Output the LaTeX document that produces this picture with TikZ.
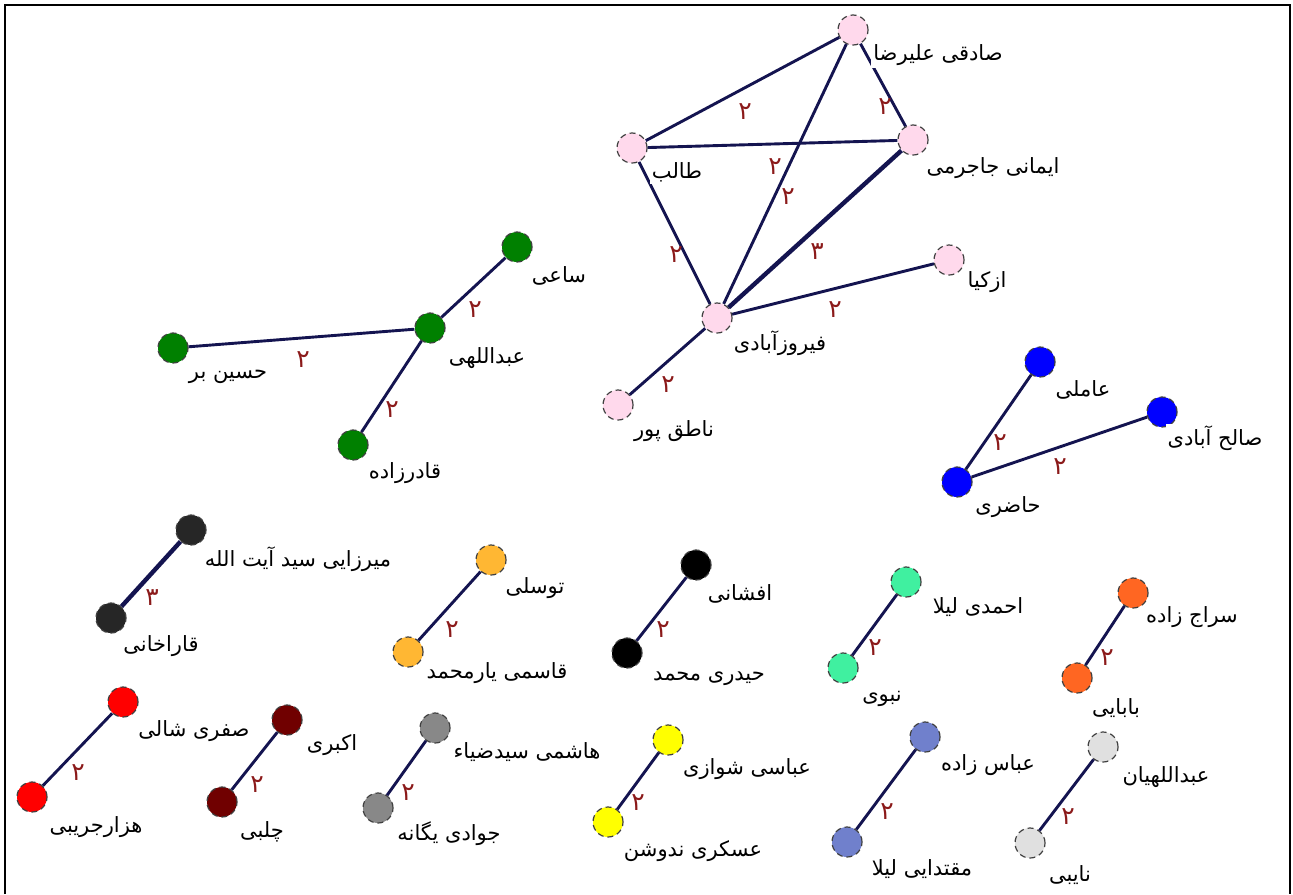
\documentclass[tikz,border=0pt]{standalone}
\usepackage{fontspec}
\newfontfamily\arfont[Script=Arabic]{DejaVu Sans}
\TeXXeTstate=1
\newcommand\fatext[1]{\beginR#1\endR}
\definecolor{edgec}{HTML}{141450}
\definecolor{labc}{HTML}{8B1A1A}
\definecolor{cpink}{HTML}{FFD9EC}
\definecolor{cgreen}{HTML}{008000}
\definecolor{cblue}{HTML}{0000FF}
\definecolor{cdark}{HTML}{262626}
\definecolor{corange}{HTML}{FFB733}
\definecolor{cblack}{HTML}{000000}
\definecolor{cteal}{HTML}{40F0A0}
\definecolor{cored}{HTML}{FF6622}
\definecolor{cred}{HTML}{FF0000}
\definecolor{cmaroon}{HTML}{700000}
\definecolor{cgrey}{HTML}{888888}
\definecolor{cyellow}{HTML}{FFFF00}
\definecolor{cperi}{HTML}{7080CC}
\definecolor{clgrey}{HTML}{E0E0E0}
\begin{document}
\begin{tikzpicture}[x=0.5pt,y=-0.5pt,
  pnode/.style={circle, draw=black!75, densely dashed, line width=0.6pt, minimum size=15pt, inner sep=0pt},
  lnk/.style={draw=edgec, line width=1.45pt},
  heavylnk/.style={draw=edgec, line width=2.2pt},
  nlabel/.style={font=\fontsize{10.5}{12}\arfont, fill=white, inner sep=1pt, text=black},
  elab/.style={font=\fontsize{12.5}{14}\arfont, text=labc, inner sep=0pt}]
\useasboundingbox (0,0) rectangle (1293,894);
\draw[line width=1pt] (5,894) -- (5,5) -- (1290,5) -- (1290,894);

% pink cluster
\node[pnode, fill=cpink] (sadeghi) at (853,30) {};
\node[pnode, fill=cpink] (taleb) at (632,148) {};
\node[pnode, fill=cpink] (imani) at (913,140) {};
\node[pnode, fill=cpink] (firouz) at (717,318) {};
\node[pnode, fill=cpink] (azkia) at (949,260) {};
\node[pnode, fill=cpink] (nategh) at (618,405) {};
\draw[lnk] (sadeghi) -- (taleb);
\draw[lnk] (sadeghi) -- (imani);
\draw[lnk] (sadeghi) -- (firouz);
\draw[lnk] (taleb) -- (imani);
\draw[lnk] (taleb) -- (firouz);
\draw[heavylnk] (imani) -- (firouz);
\draw[lnk] (firouz) -- (azkia);
\draw[lnk] (firouz) -- (nategh);
\node[elab] (e1) at (745,112) {۲};
\node[elab] (e2) at (885,107) {۲};
\node[elab] (e3) at (775,167) {۲};
\node[elab] (e4) at (788,197) {۲};
\node[elab] (e5) at (676,255) {۲};
\node[elab] (e6) at (817,252) {۳};
\node[elab] (e7) at (835,310) {۲};
\node[elab] (e8) at (668,385) {۲};
\node[nlabel] (lsadeghi) at (938,55) {\fatext{صادقی  علیرضا}};
\node[nlabel] (ltaleb) at (677,172) {\fatext{طالب}};
\node[nlabel] (limani) at (993,168) {\fatext{ایمانی جاجرمی}};
\node[nlabel] (lfirouz) at (780,343) {\fatext{فیروزآبادی}};
\node[nlabel] (lazkia) at (987,282) {\fatext{ازکیا}};
\node[nlabel] (lnategh) at (674,431) {\fatext{ناطق پور}};

% green cluster
\node[pnode, fill=cgreen] (saei) at (517,247) {};
\node[pnode, fill=cgreen] (abdollahi) at (430,328) {};
\node[pnode, fill=cgreen] (hosseinbar) at (173,348) {};
\node[pnode, fill=cgreen] (ghader) at (353,445) {};
\draw[lnk] (saei) -- (abdollahi);
\draw[lnk] (hosseinbar) -- (abdollahi);
\draw[lnk] (ghader) -- (abdollahi);
\node[elab] (e9) at (475,310) {۲};
\node[elab] (e10) at (303,360) {۲};
\node[elab] (e11) at (392,410) {۲};
\node[nlabel] (lsaei) at (559,276) {\fatext{ساعی}};
\node[nlabel] (labdollahi) at (487,358) {\fatext{عبداللهی}};
\node[nlabel] (lhosseinbar) at (228,377) {\fatext{حسین بر}};
\node[nlabel] (lghader) at (405,473) {\fatext{قادرزاده}};

% blue cluster
\node[pnode, fill=cblue] (ameli) at (1040,362) {};
\node[pnode, fill=cblue] (saleh) at (1162,412) {};
\node[pnode, fill=cblue] (hazeri) at (957,482) {};
\draw[lnk] (ameli) -- (hazeri);
\draw[lnk] (saleh) -- (hazeri);
\node[elab] (e12) at (1000,443) {۲};
\node[elab] (e13) at (1060,467) {۲};
\node[nlabel] (lameli) at (1083,390) {\fatext{عاملی}};
\node[nlabel] (lsaleh) at (1215,438) {\fatext{صالح آبادی}};
\node[nlabel] (lhazeri) at (1008,507) {\fatext{حاضری}};

% pairs
\node[pnode, fill=cdark] (mirzaei) at (191,530) {};
\node[pnode, fill=cdark] (gharakhani) at (111,618) {};
\draw[heavylnk] (mirzaei) -- (gharakhani);
\node[elab] (e14) at (152,598) {۳};
\node[nlabel] (lmirzaei) at (298,559) {\fatext{میرزایی سید آیت الله}};
\node[nlabel] (lgharakhani) at (161,646) {\fatext{قاراخانی}};

\node[pnode, fill=corange] (tavasoli) at (491,560) {};
\node[pnode, fill=corange] (ghasemi) at (408,652) {};
\draw[lnk] (tavasoli) -- (ghasemi);
\node[elab] (e15) at (452,630) {۲};
\node[nlabel] (ltavasoli) at (535,588) {\fatext{توسلی}};
\node[nlabel] (lghasemi) at (497,673) {\fatext{قاسمی  یارمحمد}};

\node[pnode, fill=cblack] (afshani) at (696,565) {};
\node[pnode, fill=cblack] (heidari) at (627,653) {};
\draw[lnk] (afshani) -- (heidari);
\node[elab] (e16) at (663,630) {۲};
\node[nlabel] (lafshani) at (740,594) {\fatext{افشانی}};
\node[nlabel] (lheidari) at (709,679) {\fatext{حیدری  محمد}};

\node[pnode, fill=cteal] (ahmadi) at (906,582) {};
\node[pnode, fill=cteal] (nabavi) at (843,668) {};
\draw[lnk] (ahmadi) -- (nabavi);
\node[elab] (e17) at (875,648) {۲};
\node[nlabel] (lahmadi) at (978,607) {\fatext{احمدی  لیلا}};
\node[nlabel] (lnabavi) at (882,699) {\fatext{نبوی}};

\node[pnode, fill=cored] (seraj) at (1133,593) {};
\node[pnode, fill=cored] (babaei) at (1077,678) {};
\draw[lnk] (seraj) -- (babaei);
\node[elab] (e18) at (1107,658) {۲};
\node[nlabel] (lseraj) at (1192,617) {\fatext{سراج زاده}};
\node[nlabel] (lbabaei) at (1116,708) {\fatext{بابایی}};

\node[pnode, fill=cred] (safari) at (123,702) {};
\node[pnode, fill=cred] (hezar) at (32,797) {};
\draw[lnk] (safari) -- (hezar);
\node[elab] (e19) at (78,773) {۲};
\node[nlabel] (lsafari) at (194,731) {\fatext{صفری شالی}};
\node[nlabel] (lhezar) at (96,827) {\fatext{هزارجریبی}};

\node[pnode, fill=cmaroon] (akbari) at (287,720) {};
\node[pnode, fill=cmaroon] (chalabi) at (222,802) {};
\draw[lnk] (akbari) -- (chalabi);
\node[elab] (e20) at (257,785) {۲};
\node[nlabel] (lakbari) at (332,745) {\fatext{اکبری}};
\node[nlabel] (lchalabi) at (262,832) {\fatext{چلبی}};

\node[pnode, fill=cgrey] (hashemi) at (435,728) {};
\node[pnode, fill=cgrey] (javadi) at (378,808) {};
\draw[lnk] (hashemi) -- (javadi);
\node[elab] (e21) at (408,793) {۲};
\node[nlabel] (lhashemi) at (527,752) {\fatext{هاشمی  سیدضیاء}};
\node[nlabel] (ljavadi) at (449,834) {\fatext{جوادی یگانه}};

\node[pnode, fill=cyellow] (abbasi) at (668,740) {};
\node[pnode, fill=cyellow] (askari) at (608,822) {};
\draw[lnk] (abbasi) -- (askari);
\node[elab] (e22) at (638,803) {۲};
\node[nlabel] (labbasi) at (747,769) {\fatext{عباسی شوازی}};
\node[nlabel] (laskari) at (693,851) {\fatext{عسکری ندوشن}};

\node[pnode, fill=cperi] (abbaszadeh) at (925,737) {};
\node[pnode, fill=cperi] (moghtadaei) at (847,842) {};
\draw[lnk] (abbaszadeh) -- (moghtadaei);
\node[elab] (e23) at (887,812) {۲};
\node[nlabel] (labbaszadeh) at (988,765) {\fatext{عباس زاده}};
\node[nlabel] (lmoghtadaei) at (922,869) {\fatext{مقتدایی  لیلا}};

\node[pnode, fill=clgrey] (abdollahian) at (1103,747) {};
\node[pnode, fill=clgrey] (naebi) at (1030,843) {};
\draw[lnk] (abdollahian) -- (naebi);
\node[elab] (e24) at (1068,817) {۲};
\node[nlabel] (labdollahian) at (1166,777) {\fatext{عبداللهیان}};
\node[nlabel] (lnaebi) at (1070,875) {\fatext{نایبی}};
\end{tikzpicture}
\end{document}
